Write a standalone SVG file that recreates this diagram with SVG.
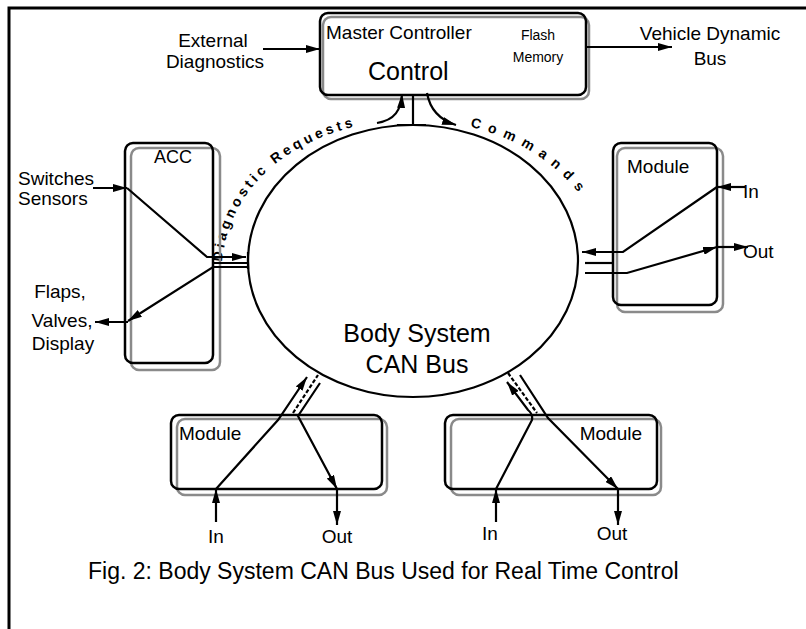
<svg xmlns="http://www.w3.org/2000/svg" width="806" height="629" viewBox="0 0 806 629">
<style>
text{font-family:"Liberation Sans",Arial,sans-serif;fill:#000}
.t19{font-size:19px}
.sh{fill:none;stroke:#8a8a8a;stroke-width:2.5}
.bx{fill:none;stroke:#000;stroke-width:2.5}
.ln{fill:none;stroke:#000;stroke-width:2.2}
.ar{fill:none;stroke:#000;stroke-width:2.2;marker-end:url(#ah)}
.ds{fill:none;stroke:#000;stroke-width:2.2;stroke-dasharray:4 2}
.arcl{font-size:14px;font-weight:bold;letter-spacing:3.5px}
.arcr{font-size:14px;font-weight:bold;letter-spacing:7.5px}
</style>
<defs>
<marker id="ah" viewBox="0 0 14 8" refX="14" refY="4" markerWidth="14" markerHeight="8" markerUnits="userSpaceOnUse" orient="auto"><path d="M0,0 L14,4 L0,8 Z" fill="#000"/></marker>
<path id="arcL" d="M222,262 C230,180 300,130 392,120"/>
<path id="arcR" d="M470,127 C522,139 564,167 594,214"/>
</defs>
<rect width="806" height="629" fill="#fff"/>
<g id="frame">
<path d="M9,629 L9,8 L806,8" fill="none" stroke="#000" stroke-width="3"/>
</g>
<g id="master">
<rect class="sh" x="323" y="17" width="266" height="82" rx="8"/>
<rect class="bx" x="320" y="13" width="266" height="82" rx="8"/>
<text x="326" y="39" style="font-size:19px">Master Controller</text>
<text x="538" y="40" text-anchor="middle" style="font-size:14px">Flash</text>
<text x="538" y="62" text-anchor="middle" style="font-size:14px">Memory</text>
<text x="368" y="80" style="font-size:25px">Control</text>
</g>
<g id="ext">
<text class="t19" x="213" y="47" text-anchor="middle">External</text>
<text class="t19" x="215" y="68" text-anchor="middle">Diagnostics</text>
</g>
<g id="vehicle">
<text class="t19" x="710" y="40" text-anchor="middle">Vehicle Dynamic</text>
<text class="t19" x="710" y="65" text-anchor="middle">Bus</text>
</g>
<g id="bus">
<ellipse cx="413" cy="261" rx="165" ry="136" fill="none" stroke="#000" stroke-width="2.2"/>
<text x="417" y="342" text-anchor="middle" style="font-size:25px">Body System</text>
<text x="417" y="373" text-anchor="middle" style="font-size:25px">CAN Bus</text>
<text class="arcl"><textPath href="#arcL">Diagnostic Requests</textPath></text>
<text class="arcr"><textPath href="#arcR">Commands</textPath></text>
</g>
<g id="acc">
<rect class="sh" x="131" y="148" width="89" height="222" rx="8"/>
<rect class="bx" x="125" y="143" width="88" height="220" rx="8"/>
<text x="173" y="163" text-anchor="middle" style="font-size:18px">ACC</text>
<text class="t19" x="18" y="185">Switches</text>
<text class="t19" x="18" y="205">Sensors</text>
<text class="t19" x="60" y="298" text-anchor="middle">Flaps,</text>
<text class="t19" x="62" y="327" text-anchor="middle">Valves,</text>
<text class="t19" x="63" y="350" text-anchor="middle">Display</text>
</g>
<g id="moduleR">
<rect class="sh" x="617" y="148" width="106" height="164" rx="8"/>
<rect class="bx" x="613" y="143" width="104" height="162" rx="8"/>
<text class="t19" x="627" y="173">Module</text>
<text class="t19" x="743" y="198">In</text>
<text class="t19" x="743" y="258">Out</text>
</g>
<g id="moduleBL">
<rect class="sh" x="177" y="419" width="210" height="76" rx="8"/>
<rect class="bx" x="171" y="415" width="211" height="74" rx="8"/>
<text class="t19" x="179" y="440">Module</text>
<text class="t19" x="216" y="543" text-anchor="middle">In</text>
<text class="t19" x="337" y="543" text-anchor="middle">Out</text>
</g>
<g id="moduleBR">
<rect class="sh" x="451" y="419" width="210" height="76" rx="8"/>
<rect class="bx" x="445" y="415" width="212" height="74" rx="8"/>
<text class="t19" x="642" y="440" text-anchor="end">Module</text>
<text class="t19" x="490" y="540" text-anchor="middle">In</text>
<text class="t19" x="612" y="540" text-anchor="middle">Out</text>
</g>
<g id="connectors">
<path class="ar" d="M263,49 L320,49"/>
<path class="ar" d="M587,47 L672,47"/>
<path class="ln" d="M413,95 L413,125 M397,125 L426,125"/>
<path class="ar" d="M377,123 C395,120 401,110 402,94"/>
<path class="ar" d="M427,93 C430,110 440,120 456,125"/>
<path class="ar" d="M93,188 L127,188"/>
<path class="ar" d="M127,188 L207,257 L246,257"/>
<path class="ln" d="M248,252 L248,269 M213,263 L248,263"/>
<path class="ar" d="M248,267 L213,267 L128,321"/>
<path class="ar" d="M128,322 L95,322"/>
<path class="ar" d="M745,187 L717,187"/>
<path class="ar" d="M717,187 L623,252 L582,252"/>
<path class="ln" d="M585,263 L613,263"/>
<path class="ar" d="M585,273 L627,273 L717,247"/>
<path class="ar" d="M717,247 L748,247"/>
<path class="ar" d="M216,522 L216,489"/>
<path class="ar" d="M216,489 L278,420 L307,377"/>
<path class="ds" d="M293,413 L318,375"/>
<path class="ar" d="M320,383 L298,416 L337,489"/>
<path class="ar" d="M337,489 L337,525"/>
<path class="ar" d="M496,522 L496,489"/>
<path class="ar" d="M496,489 L532,420 Q533,414 528,410 L507,382"/>
<path class="ds" d="M508,373 L537,413"/>
<path class="ar" d="M520,375 L548,418 L618,489"/>
<path class="ar" d="M618,489 L618,525"/>
</g>
<text x="88" y="579" style="font-size:23px">Fig. 2: Body System CAN Bus Used for Real Time Control</text>
</svg>
